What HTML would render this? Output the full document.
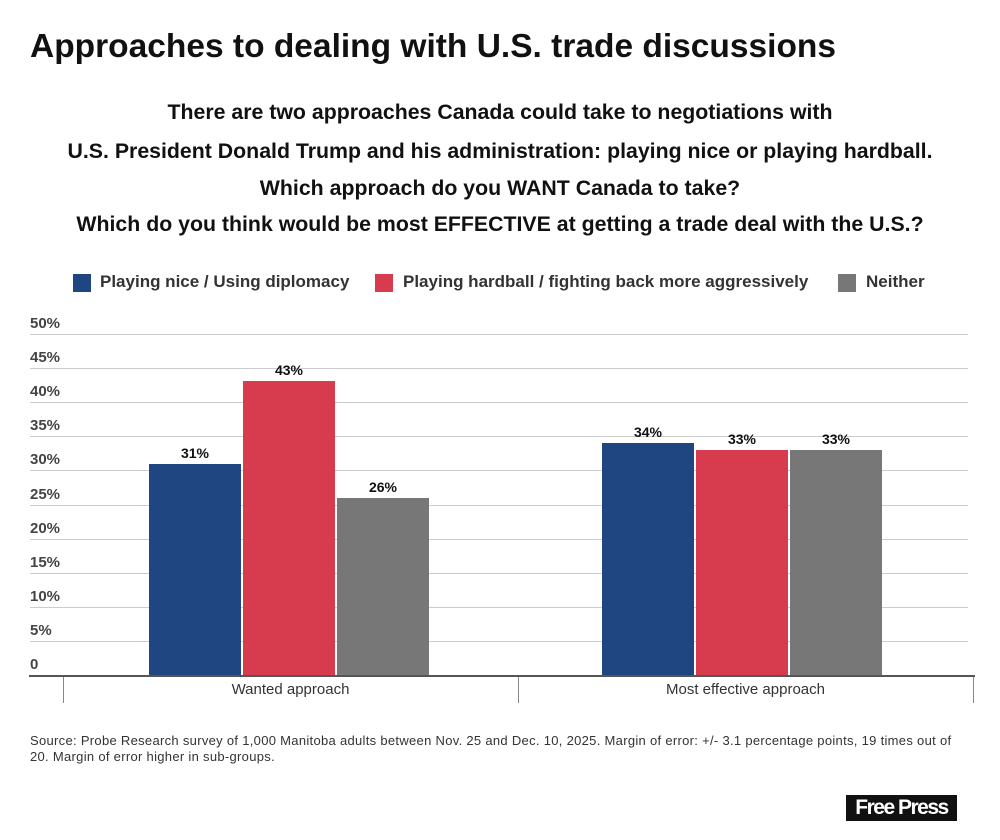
<!DOCTYPE html>
<html><head><meta charset="utf-8"><style>
body{margin:0;width:1000px;height:840px;background:#fff;font-family:"Liberation Sans",sans-serif;position:relative;overflow:hidden}
.a{position:absolute}
h1{position:absolute;left:30px;top:28px;margin:0;font-size:33.5px;font-weight:bold;color:#111;letter-spacing:0px;white-space:nowrap}
.sub{position:absolute;left:0;width:1000px;text-align:center;font-size:21.3px;font-weight:bold;color:#111;white-space:nowrap}
.leg{position:absolute;top:272px;font-size:17px;color:#333;font-weight:bold}
.sw{position:absolute;width:18px;height:18px;top:274px}
.yl{position:absolute;left:30px;font-size:15px;color:#444;font-weight:bold}
.g{position:absolute;left:30px;width:938px;height:1px;background:#ccc}
.bar{position:absolute;width:92px}
.v{position:absolute;width:92px;text-align:center;font-size:14px;font-weight:bold;color:#111}
</style></head><body>
<h1>Approaches to dealing with U.S. trade discussions</h1>
<div class="sub" style="top:100px">There are two approaches Canada could take to negotiations with</div>
<div class="sub" style="top:139px">U.S. President Donald Trump and his administration: playing nice or playing hardball.</div>
<div class="sub" style="top:176px">Which approach do you WANT Canada to take?</div>
<div class="sub" style="top:212px">Which do you think would be most EFFECTIVE at getting a trade deal with the U.S.?</div>
<div class="sw" style="left:73px;background:#1f4680"></div><div class="leg" style="left:100px">Playing nice / Using diplomacy</div>
<div class="sw" style="left:375px;background:#d63c4e"></div><div class="leg" style="left:403px">Playing hardball / fighting back more aggressively</div>
<div class="sw" style="left:838px;background:#777"></div><div class="leg" style="left:866px">Neither</div>
<div class="g" style="top:334px"></div><div class="g" style="top:368px"></div><div class="g" style="top:402px"></div><div class="g" style="top:436px"></div><div class="g" style="top:470px"></div><div class="g" style="top:505px"></div><div class="g" style="top:539px"></div><div class="g" style="top:573px"></div><div class="g" style="top:607px"></div><div class="g" style="top:641px"></div>
<div class="yl" style="top:315px">50%</div><div class="yl" style="top:349px">45%</div><div class="yl" style="top:383px">40%</div><div class="yl" style="top:417px">35%</div><div class="yl" style="top:451px">30%</div><div class="yl" style="top:486px">25%</div><div class="yl" style="top:520px">20%</div><div class="yl" style="top:554px">15%</div><div class="yl" style="top:588px">10%</div><div class="yl" style="top:622px">5%</div><div class="yl" style="top:656px">0</div>
<div class="bar" style="left:149px;top:464px;height:212px;background:#1f4680"></div>
<div class="bar" style="left:243px;top:381px;height:295px;background:#d63c4e"></div>
<div class="bar" style="left:337px;top:498px;height:178px;background:#777"></div>
<div class="bar" style="left:602px;top:443px;height:233px;background:#1f4680"></div>
<div class="bar" style="left:696px;top:450px;height:226px;background:#d63c4e"></div>
<div class="bar" style="left:790px;top:450px;height:226px;background:#777"></div>
<div class="v" style="left:149px;top:445px">31%</div><div class="v" style="left:243px;top:362px">43%</div><div class="v" style="left:337px;top:479px">26%</div>
<div class="v" style="left:602px;top:424px">34%</div><div class="v" style="left:696px;top:431px">33%</div><div class="v" style="left:790px;top:431px">33%</div>
<div class="a" style="left:29px;top:675px;width:946px;height:2px;background:#555"></div>
<div class="a" style="left:63px;top:677px;width:1px;height:26px;background:#888"></div>
<div class="a" style="left:518px;top:677px;width:1px;height:26px;background:#888"></div>
<div class="a" style="left:973px;top:677px;width:1px;height:26px;background:#888"></div>
<div class="a" style="left:63px;width:455px;top:681px;text-align:center;font-size:15px;color:#333">Wanted approach</div>
<div class="a" style="left:518px;width:455px;top:681px;text-align:center;font-size:15px;color:#333">Most effective approach</div>
<div class="a" style="left:30px;top:733px;width:960px;font-size:13px;line-height:16px;color:#333;letter-spacing:0.3px;white-space:nowrap">Source: Probe Research survey of 1,000 Manitoba adults between Nov. 25 and Dec. 10, 2025. Margin of error: +/- 3.1 percentage points, 19 times out of<br>20. Margin of error higher in sub-groups.</div>
<div class="a" style="left:846px;top:795px;width:111px;height:26px;background:#111;color:#fff;font-weight:bold;font-size:21px;line-height:26px;text-align:center;letter-spacing:-1.5px">Free Press</div>
</body></html>
